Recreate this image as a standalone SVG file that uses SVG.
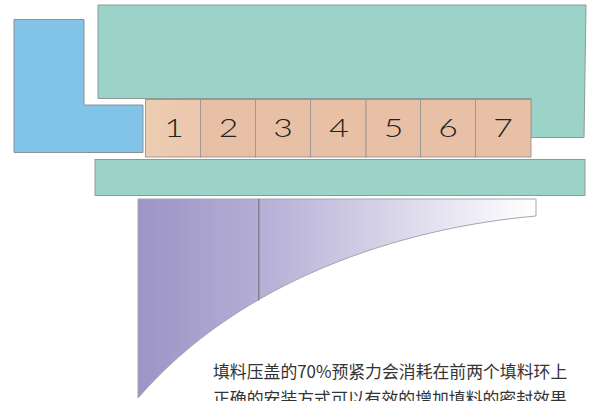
<svg xmlns="http://www.w3.org/2000/svg" width="595" height="401" viewBox="0 0 595 401">
<defs>
<linearGradient id="fade" gradientUnits="userSpaceOnUse" x1="138" y1="0" x2="536" y2="0"><stop offset="0" stop-color="#9c94c6"/><stop offset="0.3" stop-color="#b4aed5"/><stop offset="1" stop-color="#ffffff"/></linearGradient>
<linearGradient id="pack" gradientUnits="userSpaceOnUse" x1="146" y1="0" x2="260" y2="0"><stop offset="0" stop-color="#edcdb2"/><stop offset="1" stop-color="#e8c0a6"/></linearGradient>
</defs>
<style>
.teal{fill:#9cd3c8;stroke:#8b9a98;stroke-width:1}
.cell{fill:#e8c0a6;stroke:#a09a96;stroke-width:1}
.num{font-family:"Lato","Liberation Sans",sans-serif;font-weight:300;font-size:25px;fill:#222;text-anchor:middle}
.cap{font-family:"Noto Sans CJK SC","Noto Sans",sans-serif;font-size:16.85px;fill:#333}
</style>
<g id="gland"><path d="M14 19.500H84V105H143V152.500H14Z" fill="#82c4e8" stroke="#8a9299" stroke-width="1"/></g>
<g id="housing"><path d="M98 5H586L584 137.500H531V98.500H98Z" class="teal"/></g>
<g id="shaft"><rect x="95" y="159.500" width="490" height="36" class="teal"/></g>
<g id="ring-1"><rect x="145.500" y="99.500" width="55" height="57.500" class="cell" style="fill:url(#pack)"/><text transform="translate(174 137) scale(1.35 1)" class="num">1</text></g>
<g id="ring-2"><rect x="200.500" y="99.500" width="55" height="57.500" class="cell"/><text transform="translate(228.500 137) scale(1.35 1)" class="num">2</text></g>
<g id="ring-3"><rect x="255.500" y="99.500" width="55" height="57.500" class="cell"/><text transform="translate(283 137) scale(1.35 1)" class="num">3</text></g>
<g id="ring-4"><rect x="310.500" y="99.500" width="55.500" height="57.500" class="cell"/><text transform="translate(339 137) scale(1.35 1)" class="num">4</text></g>
<g id="ring-5"><rect x="366" y="99.500" width="54.500" height="57.500" class="cell"/><text transform="translate(393.500 137) scale(1.35 1)" class="num">5</text></g>
<g id="ring-6"><rect x="420.500" y="99.500" width="55" height="57.500" class="cell"/><text transform="translate(448 137) scale(1.35 1)" class="num">6</text></g>
<g id="ring-7"><rect x="475.500" y="99.500" width="55.500" height="57.500" class="cell"/><text transform="translate(503 137) scale(1.35 1)" class="num">7</text></g>
<g id="pressure-curve"><path d="M536 199H138V398C240 280 400 228 536 216Z" fill="url(#fade)" stroke="#a5a5ad" stroke-width="1"/><path d="M258.800 199V300.500" stroke="#6f6e76" stroke-width="1.100" fill="none"/></g>
<g id="caption"><text x="213" y="378" class="cap">填料压盖的70%预紧力会消耗在前两个填料环上</text><text x="213" y="404.500" class="cap">正确的安装方式可以有效的增加填料的密封效果</text></g>
</svg>
